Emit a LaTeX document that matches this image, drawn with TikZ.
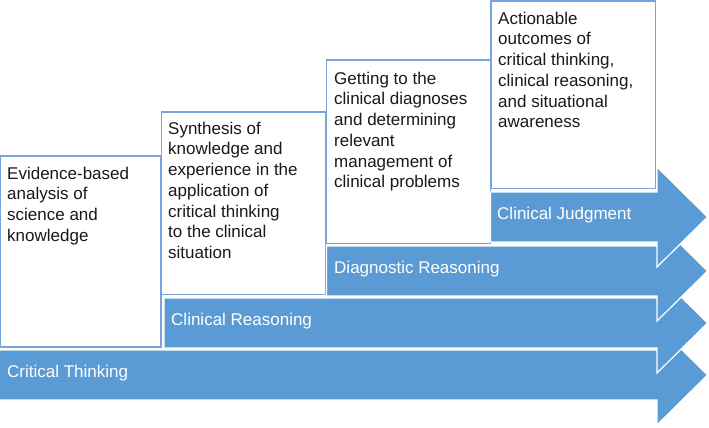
\documentclass[tikz,border=0pt]{standalone}
\usepackage{fontspec}
\setmainfont{Liberation Sans}
\definecolor{arrowblue}{HTML}{5B9BD5}
\definecolor{boxblue}{RGB}{120,165,220}
\definecolor{txtdark}{RGB}{25,25,25}
\begin{document}
\begin{tikzpicture}[x=1pt,y=-1pt,
  arrowpath/.style={fill=arrowblue,draw=white,line width=1.2pt,line join=miter},
  boxline/.style={draw=boxblue,fill=white,line width=1.1pt},
  boxtext/.style={anchor=north west,inner sep=0pt,align=left,text=txtdark,
    font=\fontsize{17}{20.7}\selectfont},
  arrowtext/.style={anchor=base west,inner sep=0pt,text=white,
    font=\fontsize{17}{20.7}\selectfont}]
\useasboundingbox (0,0) rectangle (709,428);
% boxes
\draw[boxline] (0.6,156) rectangle (161,347);
\draw[boxline] (161.5,112) rectangle (325.5,294.5);
\draw[boxline] (326.5,60) rectangle (490.5,243.5);
\draw[boxline] (491,1) rectangle (655.5,188.5);
\node[boxtext] (t1) at (7,165) {\rule{0pt}{14pt}Evidence-based\\analysis of\\science and\\knowledge};
\node[boxtext] (t2) at (168,120) {\rule{0pt}{14pt}Synthesis of\\knowledge and\\experience in the\\application of\\critical thinking\\to the clinical\\situation};
\node[boxtext] (t3) at (334,70) {\rule{0pt}{14pt}Getting to the\\clinical diagnoses\\and determining\\relevant\\management of\\clinical problems};
\node[boxtext] (t4) at (498,10) {\rule{0pt}{14pt}Actionable\\outcomes of\\critical thinking,\\clinical reasoning,\\and situational\\awareness};
% arrows (bottom first, upper ones on top)
\draw[arrowpath] (-2,350) -- (657,350) -- (657,325) -- (707.5,375) -- (657,425) -- (657,400) -- (-2,400) -- cycle;
\draw[arrowpath] (164,298) -- (657,298) -- (657,273) -- (707.5,323) -- (657,373) -- (657,348) -- (164,348) -- cycle;
\draw[arrowpath] (326.5,246) -- (657,246) -- (657,221) -- (707.5,271) -- (657,321) -- (657,296) -- (326.5,296) -- cycle;
\draw[arrowpath] (490.5,192) -- (657,192) -- (657,167) -- (707.5,217) -- (657,267) -- (657,242) -- (490.5,242) -- cycle;
\node[arrowtext] (a1) at (7,377) {Critical Thinking};
\node[arrowtext] (a2) at (171,325) {Clinical Reasoning};
\node[arrowtext] (a3) at (334,273) {Diagnostic Reasoning};
\node[arrowtext] (a4) at (497,219) {Clinical Judgment};
\end{tikzpicture}
\end{document}
